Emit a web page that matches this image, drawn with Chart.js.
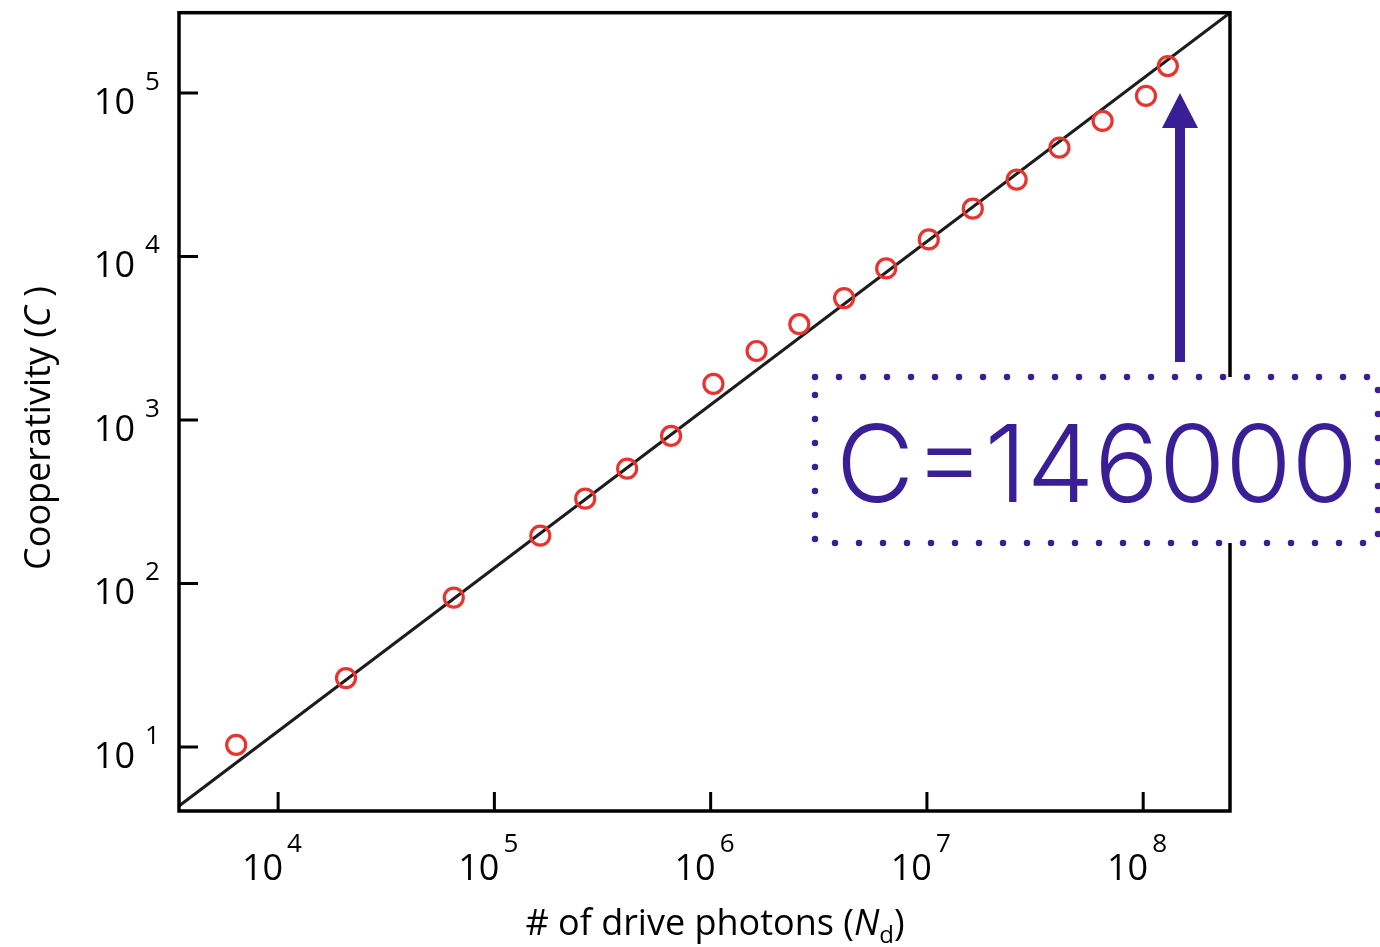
<!DOCTYPE html>
<html>
<head>
<meta charset="utf-8">
<script src="https://cdn.jsdelivr.net/npm/chart.js@4"></script>
<style>
  html, body { margin: 0; padding: 0; background: #fff; }
  #wrap { width: 1380px; height: 947px; }
</style>
</head>
<body>
<div id="wrap"><canvas id="chart" width="1380" height="947"></canvas></div>
<script>
// measured points: drive photons vs cooperativity
const photons = [6400, 20600, 64900, 163000, 263000, 411000, 656000, 1.03e6, 1.63e6, 2.57e6,
  4.14e6, 6.48e6, 1.02e7, 1.63e7, 2.60e7, 4.10e7, 6.49e7, 1.03e8, 1.30e8];
const cooperativity = [10.3, 26.4, 82, 196, 330, 504, 798, 1660, 2640, 3850,
  5560, 8450, 12700, 19600, 29500, 46300, 67400, 95900, 146000];

// straight fit line (end points)
const fitPhotons = [3481, 2.52e8];
const fitCoop = [4.36, 3.09e5];

const xTicks = [1e4, 1e5, 1e6, 1e7, 1e8];
const yTicks = [1e1, 1e2, 1e3, 1e4, 1e5];

const labelFont = '"Open Sans", "Noto Sans", sans-serif';
const purple = '#3a1e96';

const decorPlugin = {
  id: 'decor',
  afterDraw(chart) {
    const ctx = chart.ctx;
    const area = chart.chartArea;
    const xs = chart.scales.x, ys = chart.scales.y;
    ctx.save();

    // frame
    ctx.strokeStyle = '#000';
    ctx.lineWidth = 3.5;
    ctx.strokeRect(area.left, area.top, area.right - area.left, area.bottom - area.top);

    // inward ticks
    ctx.lineWidth = 3;
    ctx.beginPath();
    xTicks.forEach(v => {
      const px = xs.getPixelForValue(v);
      ctx.moveTo(px, area.bottom);
      ctx.lineTo(px, area.bottom - 19);
    });
    yTicks.forEach(v => {
      const py = ys.getPixelForValue(v);
      ctx.moveTo(area.left, py);
      ctx.lineTo(area.left + 19, py);
    });
    ctx.stroke();

    // tick labels 10^n
    ctx.fillStyle = '#000';
    ctx.textBaseline = 'alphabetic';
    xTicks.forEach(v => {
      const px = xs.getPixelForValue(v);
      ctx.font = '36px ' + labelFont;
      ctx.textAlign = 'right';
      ctx.fillText('10', px + 5, area.bottom + 69);
      ctx.font = '26px ' + labelFont;
      ctx.textAlign = 'left';
      ctx.fillText(String(Math.round(Math.log10(v))), px + 9, area.bottom + 41);
    });
    yTicks.forEach(v => {
      const py = ys.getPixelForValue(v);
      ctx.font = '36px ' + labelFont;
      ctx.textAlign = 'right';
      ctx.fillText('10', area.left - 44, py + 21);
      ctx.font = '26px ' + labelFont;
      ctx.textAlign = 'left';
      ctx.fillText(String(Math.round(Math.log10(v))), area.left - 34, py - 3);
    });

    // x title: # of drive photons (N_d)
    const parts = [
      { t: '# of drive photons (', f: '36px ' + labelFont, dy: 0 },
      { t: 'N', f: 'italic 36px ' + labelFont, dy: 0 },
      { t: 'd', f: '24px ' + labelFont, dy: 8 },
      { t: ')', f: '36px ' + labelFont, dy: 0 }
    ];
    let total = 0;
    parts.forEach(p => { ctx.font = p.f; p.w = ctx.measureText(p.t).width; total += p.w; });
    let x0 = 715 - total / 2;
    ctx.textAlign = 'left';
    parts.forEach(p => { ctx.font = p.f; ctx.fillText(p.t, x0, 935 + p.dy); x0 += p.w; });

    // y title: Cooperativity (C)
    ctx.save();
    ctx.translate(50, 428);
    ctx.rotate(-Math.PI / 2);
    const yparts = [
      { t: 'Cooperativity (', f: '36px ' + labelFont },
      { t: 'C', f: 'italic 36px ' + labelFont },
      { t: ' )', f: '36px ' + labelFont }
    ];
    total = 0;
    yparts.forEach(p => { ctx.font = p.f; p.w = ctx.measureText(p.t).width; total += p.w; });
    x0 = -total / 2;
    yparts.forEach(p => { ctx.font = p.f; ctx.fillText(p.t, x0, 0); x0 += p.w; });
    ctx.restore();

    // annotation box
    const bx = 815, by = 377, bw = 563, bh = 166;
    ctx.fillStyle = '#fff';
    ctx.fillRect(bx, by, bw, bh);
    ctx.strokeStyle = purple;
    ctx.lineWidth = 6.5;
    ctx.lineCap = 'round';
    ctx.setLineDash([0, 24]);
    ctx.strokeRect(bx, by, bw, bh);
    ctx.setLineDash([]);

    ctx.fillStyle = purple;
    const annFont = 'px Inter, Roboto, "Liberation Sans", sans-serif';
    let fs = 118;
    ctx.font = '300 ' + fs + annFont;
    const tw = ctx.measureText('C=146000').width;
    fs = fs * 522 / tw;
    ctx.font = '300 ' + fs + annFont;
    ctx.textAlign = 'left';
    ctx.fillText('C=146000', 836, 502);

    // arrow
    ctx.fillRect(1175, 126, 10, 236);
    ctx.beginPath();
    ctx.moveTo(1162, 128);
    ctx.lineTo(1198, 128);
    ctx.lineTo(1180, 93);
    ctx.closePath();
    ctx.fill();

    ctx.restore();
  }
};

const ctx = document.getElementById('chart').getContext('2d');
new Chart(ctx, {
  type: 'scatter',
  data: {
    datasets: [
      {
        label: 'Cooperativity',
        data: photons.map((x, i) => ({ x: x, y: cooperativity[i] })),
        pointRadius: 9.5,
        pointHoverRadius: 9.5,
        pointBorderWidth: 3.2,
        pointBorderColor: '#e8342e',
        pointBackgroundColor: 'rgba(0,0,0,0)',
        order: 0
      },
      {
        type: 'line',
        label: 'Fit',
        data: fitPhotons.map((x, i) => ({ x: x, y: fitCoop[i] })),
        borderColor: '#1c1c1c',
        borderWidth: 3,
        pointRadius: 0,
        fill: false,
        order: 1
      }
    ]
  },
  options: {
    responsive: false,
    animation: false,
    devicePixelRatio: 1,
    layout: { padding: { left: 179, right: 150, top: 12, bottom: 136 } },
    plugins: { legend: { display: false }, tooltip: { enabled: false } },
    scales: {
      x: {
        type: 'logarithmic',
        min: 3481, max: 2.52e8,
        ticks: { display: false },
        grid: { display: false, drawTicks: false },
        border: { display: false },
        afterFit: s => { s.height = 0; }
      },
      y: {
        type: 'logarithmic',
        min: 4.06, max: 309400,
        ticks: { display: false },
        grid: { display: false, drawTicks: false },
        border: { display: false },
        afterFit: s => { s.width = 0; }
      }
    }
  },
  plugins: [decorPlugin]
});
</script>
</body>
</html>
